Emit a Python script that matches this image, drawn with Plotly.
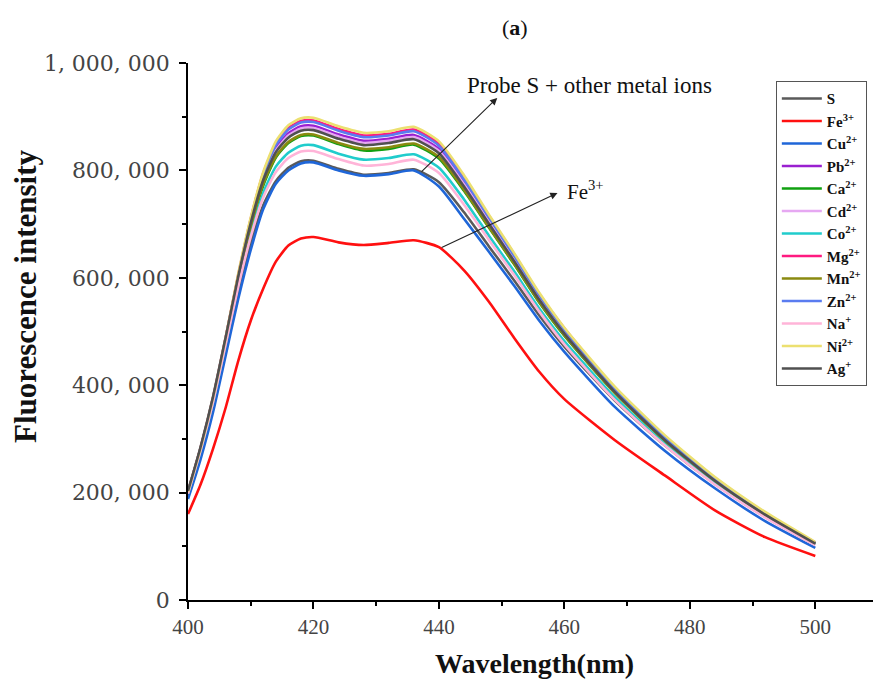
import plotly.graph_objects as go

wavelength = [400, 402, 404, 406, 408, 410, 412, 414, 416, 418, 420, 424, 428, 432,
              436, 440, 444, 448, 452, 456, 460, 468, 476, 484, 492, 500]

# intensities in thousands
S  = [196, 275, 365, 470, 575, 665, 735, 780, 805, 817, 818, 803, 792, 795, 802, 778, 722, 658, 595, 530, 472, 372, 288, 216, 155, 103]
Fe = [160, 215, 282, 358, 445, 520, 580, 630, 660, 673, 676, 666, 661, 665, 670, 657, 614, 555, 488, 425, 374, 298, 232, 167, 117, 82]
Cu = [188, 262, 350, 455, 560, 652, 728, 775, 800, 813, 815, 800, 790, 793, 800, 770, 710, 648, 585, 520, 462, 360, 278, 208, 147, 97]
Pb = [202, 283, 377, 488, 602, 705, 787, 841, 869, 882, 883, 867, 855, 859, 866, 840, 778, 707, 637, 564, 500, 392, 301, 225, 160, 106]
Ca = [200, 281, 373, 482, 594, 693, 772, 824, 851, 864, 865, 849, 837, 840, 848, 822, 762, 693, 625, 554, 492, 386, 297, 222, 159, 105]
Cd = [200, 281, 374, 483, 598, 700, 783, 837, 865, 878, 879, 863, 851, 855, 862, 836, 774, 704, 634, 563, 499, 391, 301, 224, 160, 106]
Co = [198, 278, 369, 477, 586, 682, 758, 807, 833, 846, 847, 831, 820, 823, 830, 805, 746, 678, 612, 543, 482, 378, 291, 218, 156, 103]
Mg = [202, 283, 377, 488, 605, 710, 795, 850, 879, 892, 893, 877, 865, 868, 876, 850, 786, 715, 644, 570, 506, 395, 304, 227, 162, 107]
Mn = [201, 282, 375, 484, 596, 696, 775, 826, 853, 866, 867, 851, 840, 843, 850, 825, 764, 694, 626, 555, 493, 386, 297, 222, 159, 105]
Zn = [201, 282, 376, 486, 602, 707, 792, 847, 876, 889, 890, 874, 862, 865, 873, 846, 783, 712, 641, 568, 504, 394, 303, 226, 161, 107]
Na = [198, 278, 369, 476, 583, 676, 750, 797, 823, 835, 836, 821, 809, 812, 820, 795, 736, 670, 605, 537, 476, 373, 288, 215, 154, 102]
Ni = [202, 283, 378, 489, 607, 712, 797, 854, 884, 897, 898, 882, 870, 873, 881, 854, 791, 717, 646, 572, 507, 398, 307, 229, 164, 108]
Ag = [203, 285, 379, 489, 602, 702, 782, 834, 861, 874, 875, 859, 847, 851, 858, 832, 770, 700, 631, 559, 496, 388, 298, 222, 159, 105]

series_names = ["S", "Fe<sup>3+</sup>", "Cu<sup>2+</sup>", "Pb<sup>2+</sup>", "Ca<sup>2+</sup>",
                "Cd<sup>2+</sup>", "Co<sup>2+</sup>", "Mg<sup>2+</sup>", "Mn<sup>2+</sup>",
                "Zn<sup>2+</sup>", "Na<sup>+</sup>", "Ni<sup>2+</sup>", "Ag<sup>+</sup>"]
series_values = [S, Fe, Cu, Pb, Ca, Cd, Co, Mg, Mn, Zn, Na, Ni, Ag]
series_colors = ["#5a5a5a", "#ff1010", "#1f66d8", "#9a20d0", "#10a010", "#e6a8f2",
                 "#20cccc", "#ff1a80", "#8a8a10", "#5a7cf0", "#ffb4d8", "#ece070", "#505050"]

y_ticks = [0, 200000, 400000, 600000, 800000, 1000000]
y_tick_text = ["0", "200, 000", "400, 000", "600, 000", "800, 000", "1, 000, 000"]
x_ticks = [400, 420, 440, 460, 480, 500]

SERIF = "Liberation Serif"

fig = go.Figure()
for name, vals, col in zip(series_names, series_values, series_colors):
    fig.add_trace(go.Scatter(
        x=wavelength, y=[v * 1000 for v in vals], mode="lines", name="<b>" + name + "</b>",
        line=dict(color=col, width=2.6, shape="spline", smoothing=0.6),
    ))

fig.update_layout(
    width=873, height=684,
    margin=dict(l=188, r=0, t=63, b=84),
    paper_bgcolor="white", plot_bgcolor="white",
    font=dict(family=SERIF, color="#222"),
    showlegend=True,
    legend=dict(
        x=0.991, xanchor="right", y=0.966, yanchor="top",
        bordercolor="#555", borderwidth=1, bgcolor="white",
        font=dict(family=SERIF, size=15, color="#111"),
        tracegroupgap=0, itemwidth=40,
    ),
    xaxis=dict(
        range=[400, 509.2], tickvals=x_ticks, ticks="outside", ticklen=7, tickwidth=1.5,
        showline=True, linecolor="black", linewidth=1.5, showgrid=False, zeroline=False,
        tickfont=dict(family=SERIF, size=21, color="#444"),
        minor=dict(dtick=10, tick0=400, ticks="outside", ticklen=4, tickwidth=1.5, tickcolor="black"),
        tickcolor="black",
    ),
    yaxis=dict(
        range=[0, 1000000], tickvals=y_ticks, ticktext=y_tick_text, ticks="outside", ticklen=7,
        tickwidth=1.5, tickcolor="black", ticklabelstandoff=5,
        showline=True, linecolor="black", linewidth=1.5, showgrid=False, zeroline=False,
        tickfont=dict(family="DejaVu Serif", size=22, color="#444"),
        minor=dict(dtick=100000, tick0=0, ticks="outside", ticklen=4, tickwidth=1.5, tickcolor="black"),
    ),
)

# axis titles
fig.add_annotation(text="<b>Wavelength(nm)</b>", xref="paper", yref="paper",
                   x=(534 - 188) / 685, y=(600 - 663) / 537, xanchor="center", yanchor="middle",
                   showarrow=False, font=dict(family=SERIF, size=28, color="#111"))
fig.add_annotation(text="<b>Fluorescence intensity</b>", xref="paper", yref="paper",
                   x=(25 - 188) / 685, y=(600 - 296) / 537, xanchor="center", yanchor="middle",
                   textangle=-90, showarrow=False, font=dict(family=SERIF, size=31, color="#111"))

fig.add_annotation(text="(<b>a</b>)", xref="paper", yref="paper", x=(515 - 188) / 685, y=(600 - 27) / 537,
                   xanchor="center", yanchor="middle",
                   showarrow=False, font=dict(family=SERIF, size=22, color="#111"))

# arrows
fig.add_annotation(x=449.3, y=935000, ax=437.0, ay=795000, xref="x", yref="y", axref="x", ayref="y",
                   text="", showarrow=True, arrowhead=2, arrowsize=1.3, arrowwidth=1.1, arrowcolor="#222")
fig.add_annotation(x=458.9, y=758000, ax=440.2, ay=655000, xref="x", yref="y", axref="x", ayref="y",
                   text="", showarrow=True, arrowhead=2, arrowsize=1.3, arrowwidth=1.1, arrowcolor="#222")
fig.add_annotation(x=444.2, y=959000, xref="x", yref="y", xanchor="left", yanchor="middle",
                   text="Probe S + other metal ions", showarrow=False,
                   font=dict(family=SERIF, size=23, color="#111"))
fig.add_annotation(x=460.1, y=763000, xref="x", yref="y", xanchor="left", yanchor="middle",
                   text="Fe<sup>3+</sup>", showarrow=False,
                   font=dict(family=SERIF, size=21, color="#111"))

fig.write_html("out.html")
